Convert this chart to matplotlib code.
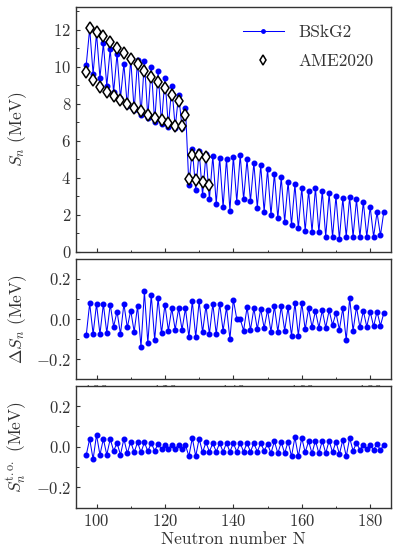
import numpy as np
import matplotlib
matplotlib.use("Agg")
import matplotlib.pyplot as plt
from matplotlib.ticker import MultipleLocator

plt.rcParams['font.family'] = ['cmr10', 'DejaVu Serif']
plt.rcParams['mathtext.fontset'] = 'cm'
plt.rcParams['axes.formatter.use_mathtext'] = True
plt.rcParams['axes.unicode_minus'] = True

# ---------------- data ----------------
N_model = list(range(97, 185))
Sn_model = [
    10.1, 12.05, 9.6, 11.8, 9.4, 11.25, 8.95, 10.95, 8.6, 10.7,      # 97-106
    8.3, 10.15, 7.85, 10.4, 7.63, 10.35, 7.4, 10.28, 7.24, 10.0,     # 107-116
    7.0, 9.74, 6.92, 9.38, 6.75, 8.95, 6.7, 8.48, 6.7, 7.78,         # 117-126
    3.59, 5.57, 3.32, 5.42, 3.05, 5.25, 2.82, 5.18, 2.6, 5.08,       # 127-136
    2.4, 5.03, 2.22, 5.14, 2.69, 5.22, 2.82, 4.98, 2.73, 4.8,        # 137-146
    2.38, 4.67, 2.16, 4.44, 1.98, 4.22, 1.8, 4.01, 1.62, 3.77,       # 147-156
    1.44, 3.63, 1.26, 3.45, 1.13, 3.29, 1.08, 3.45, 1.05, 3.27,      # 157-166
    0.81, 3.15, 0.78, 3.0, 0.68, 2.88, 0.81, 2.96, 0.81, 2.82,       # 167-176
    0.81, 2.69, 0.81, 2.42, 0.81, 2.12, 0.88, 2.17,                  # 177-184
]

N_exp = list(range(97, 134))
Sn_exp = [
    9.69, 12.1, 9.3, 11.85, 8.9, 11.65, 8.65, 11.3, 8.42, 11.0,      # 97-106
    8.17, 10.74, 8.0, 10.42, 7.75, 10.15, 7.6, 9.75, 7.4, 9.45,      # 107-116
    7.22, 9.18, 7.1, 8.85, 6.95, 8.48, 6.78, 8.15, 6.8, 7.4,         # 117-126
    3.95, 5.2, 3.85, 5.2, 3.75, 5.1, 3.58,                           # 127-133
]

dSn = [
    -0.08, 0.078, -0.075, 0.075, -0.075, 0.075, -0.07, 0.072, -0.038, 0.037,
    -0.075, 0.075, -0.042, 0.042, -0.063, 0.063, -0.138, 0.137, -0.12, 0.12,
    -0.105, 0.105, -0.072, 0.072, -0.058, 0.053, -0.053, 0.053, -0.053, 0.053,
    -0.09, 0.088, -0.09, 0.088, -0.067, 0.067, -0.075, 0.075, -0.075, 0.075,
    -0.058, 0.058, -0.1, 0.097, 0.0, 0.0, -0.058, 0.058, -0.055, 0.053,
    -0.05, 0.05, -0.045, 0.045, -0.063, 0.063, -0.063, 0.063, -0.058, 0.058,
    -0.083, 0.08, -0.083, 0.08, -0.052, 0.053, -0.04, 0.04, -0.043, 0.043,
    -0.043, 0.043, -0.03, 0.03, -0.053, 0.053, -0.105, 0.103, -0.058, 0.06,
    -0.042, 0.04, -0.038, 0.037, -0.037, 0.037, -0.033, 0.03,
]

Sn_to = [
    -0.04, 0.038, -0.062, 0.058, -0.04, 0.038, -0.04, 0.038, -0.02, 0.018,
    -0.04, 0.038, -0.033, 0.025, -0.028, 0.022, -0.028, 0.022, -0.023, 0.018,
    -0.02, 0.013, -0.012, 0.01, -0.012, 0.01, -0.012, 0.01, -0.012, 0.008,
    -0.047, 0.043, -0.047, 0.04, -0.028, 0.022, -0.025, 0.018, -0.025, 0.018,
    -0.025, 0.018, -0.025, 0.018, -0.025, 0.018, -0.025, 0.018, -0.025, 0.018,
    -0.025, 0.018, -0.02, 0.013, -0.032, 0.027, -0.032, 0.022, -0.032, 0.025,
    -0.048, 0.047, -0.048, 0.043, -0.028, 0.027, -0.033, 0.03, -0.033, 0.03,
    -0.032, 0.03, -0.028, 0.025, -0.037, 0.033, -0.048, 0.043, -0.02, 0.018,
    -0.015, 0.01, -0.012, 0.01, -0.015, 0.013, -0.017, 0.01,
]

# ---------------- figure ----------------
fig = plt.figure(figsize=(3.99, 5.6), dpi=100)
W, H = 399.0, 560.0
left, right = 76.0 / W, 390.7 / W

def box(top_px, bot_px):
    return [left, 1 - bot_px / H, right - left, (bot_px - top_px) / H]

ax1 = fig.add_axes(box(7.3, 251.7))
ax2 = fig.add_axes(box(258.7, 379.3), sharex=ax1)
ax3 = fig.add_axes(box(385.7, 507.7), sharex=ax1)

txtc = '#333333'
line_kw = dict(color='blue', lw=0.75, marker='o', ms=3.3, mfc='blue', mec='blue')

ax1.plot(N_model, Sn_model, label='BSkG2', **line_kw)
ax1.plot(N_exp, Sn_exp, ls='none', marker='d', ms=6.5, mfc='white',
         mec='black', mew=1.1, label='AME2020')
ax2.plot(N_model, dSn, **line_kw)
ax3.plot(N_model, Sn_to, **line_kw)

ax1.set_xlim(94, 186)
ax1.set_ylim(0, 13.2)
ax2.set_ylim(-0.3, 0.3)
ax3.set_ylim(-0.3, 0.3)

ax1.xaxis.set_major_locator(MultipleLocator(20))
ax1.xaxis.set_minor_locator(MultipleLocator(10))
ax1.yaxis.set_major_locator(MultipleLocator(2))
ax1.yaxis.set_minor_locator(MultipleLocator(1))
for a in (ax2, ax3):
    a.yaxis.set_major_locator(MultipleLocator(0.2))
    a.yaxis.set_minor_locator(MultipleLocator(0.1))

for a in (ax1, ax2, ax3):
    a.tick_params(which='both', direction='in', colors=txtc, labelsize=12,
                  top=False, right=False)
    a.tick_params(which='major', length=3.0, width=0.8)
    a.tick_params(which='minor', length=1.8, width=0.7)
    for s in a.spines.values():
        s.set_color(txtc)
        s.set_linewidth(1.0)

ax1.tick_params(labelbottom=False)
ax2.tick_params(labelbottom=True)
ax3.tick_params(labelbottom=True)

ax1.set_ylabel(r'$S_n$ (MeV)', fontsize=12.5, color=txtc)
ax2.set_ylabel(r'$\Delta S_n$ (MeV)', fontsize=12.5, color=txtc)
ax3.set_ylabel(r'$S_n^{\rm t.o.}$ (MeV)', fontsize=12.5, color=txtc)
ax3.set_xlabel('Neutron number N', fontsize=12.5, color=txtc, labelpad=2)
for a in (ax1, ax2, ax3):
    a.yaxis.set_label_coords(-0.15, 0.5)

leg = ax1.legend(loc='upper right', frameon=False, fontsize=12.5,
                 handlelength=2.4, borderaxespad=0.6, labelspacing=0.8,
                 markerscale=0.75)
for t in leg.get_texts():
    t.set_color(txtc)

fig.savefig('out.png', dpi=100)
